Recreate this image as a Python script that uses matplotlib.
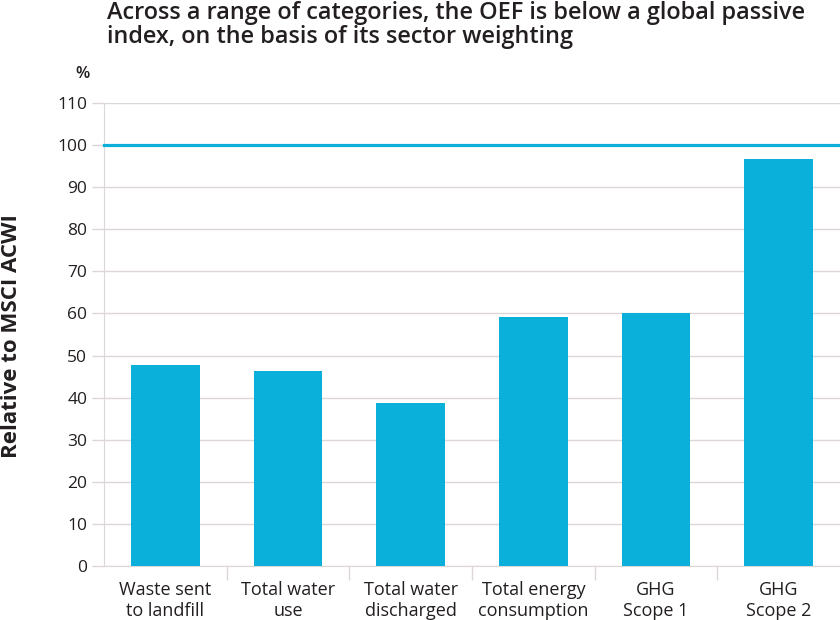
import matplotlib
matplotlib.use("Agg")
import matplotlib.pyplot as plt
import numpy as np

categories = ["Waste sent\nto landfill", "Total water\nuse", "Total water\ndischarged",
              "Total energy\nconsumption", "GHG\nScope 1", "GHG\nScope 2"]
values = [47.8, 46.3, 38.8, 59.1, 60.1, 96.7]
benchmark = 100
yticks = list(range(0, 111, 10))

BAR = "#0ab0da"
GRID = "#dcd6d6"
TXT = "#231f20"
plt.rcParams['font.family'] = ['Open Sans', 'DejaVu Sans']

fig = plt.figure(figsize=(8.4, 6.2), dpi=100)
ax = fig.add_axes([104/840, 1-566/620, 1-104/840, (566-103)/620])
x = np.arange(len(categories))
ax.bar(x, values, width=0.56, color=BAR, zorder=3)
ax.axhline(benchmark, color=BAR, lw=2.3, zorder=4, clip_on=False)
ax.set_xlim(-0.5, len(categories)-0.5)
ax.set_ylim(0, 110)
ax.set_yticks(yticks)
ax.set_yticklabels([str(t) for t in yticks], fontsize=12.5, color=TXT)
ax.tick_params(axis='y', length=9, color=GRID, width=1, pad=3)
ax.yaxis.grid(True, color=GRID, lw=1, zorder=0)
ax.set_xticks(x)
ax.set_xticklabels(categories, fontsize=13, color=TXT, linespacing=1.2)
ax.tick_params(axis='x', length=0, pad=11)
ax.set_xticks(np.arange(0.5, len(categories)-0.5, 1), minor=True)
ax.tick_params(axis='x', which='minor', length=10, color=GRID, width=1)
for s in ['top', 'right']:
    ax.spines[s].set_visible(False)
ax.spines['left'].set_color(GRID)
ax.spines['bottom'].set_color(GRID)
ax.set_axisbelow(True)

fig.text(107/840, 1-1/620, "Across a range of categories, the OEF is below a global passive\nindex, on the basis of its sector weighting",
         fontsize=16.9, fontweight='semibold', color=TXT, va='top', ha='left', linespacing=1.02)
fig.text(90/840, 1-74/620, "%", fontsize=12, color=TXT, fontweight='semibold', ha='right', va='center')
fig.text(12/840, 1-336/620, "Relative to MSCI ACWI", fontsize=16, fontweight='bold', color=TXT,
         rotation=90, ha='center', va='center')
fig.savefig("out.png", dpi=100, facecolor='white')
